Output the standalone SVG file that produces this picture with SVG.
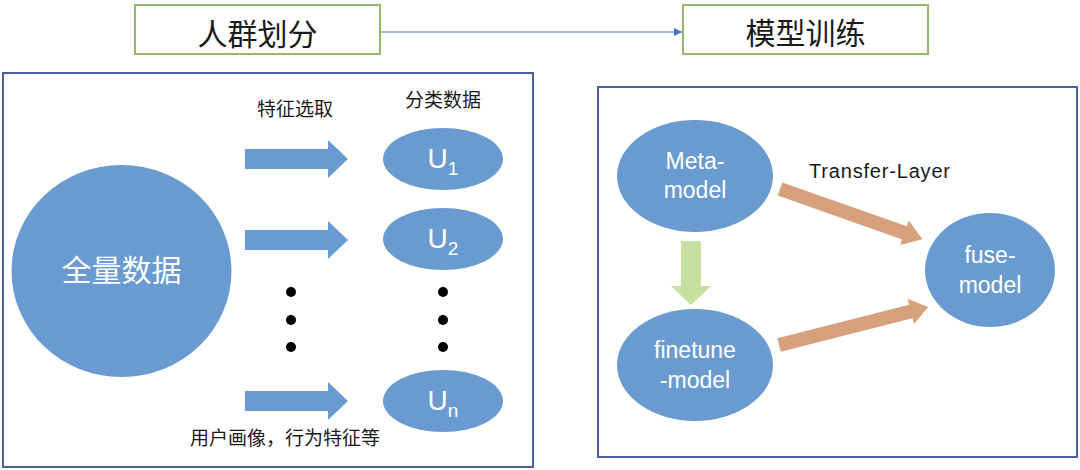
<svg xmlns="http://www.w3.org/2000/svg" width="1080" height="470" viewBox="0 0 1080 470">
<style>
.cn{font-family:"Noto Sans CJK SC",sans-serif;}
.lt{font-family:"Liberation Sans","Noto Sans CJK SC",sans-serif;}
.dark{fill:#1a1a1a;}
.wt{fill:#ffffff;}
.node{fill:#6a9bd0;}
.topbox{fill:#ffffff;stroke:#93b96a;stroke-width:2;}
.panel{fill:none;stroke:#4a5ea0;stroke-width:2;}
.barrow{fill:#6a9bd0;}
.oarrow{fill:#d7a07d;}
.garrow{fill:#c6e0a0;}
.dot{fill:#000000;}
</style>
<defs>
<marker id="ah" viewBox="0 0 10 10" refX="10" refY="5" markerWidth="8" markerHeight="8" markerUnits="userSpaceOnUse" orient="auto">
<path d="M0,0 L10,5 L0,10 z" fill="#4472c4"/>
</marker>
</defs>
<rect width="1080" height="470" fill="#ffffff"/>

<g id="panel-left"><rect class="panel" x="3" y="73" width="530" height="394"/></g>
<g id="panel-right"><rect class="panel" x="598" y="87" width="479" height="370"/></g>

<g id="connectors">
<line x1="381" y1="32" x2="682" y2="32" stroke="#4472c4" stroke-width="1" marker-end="url(#ah)"/>
<polygon class="barrow" points="245,149 328,149 328,140 348,159 328,178 328,169 245,169"/>
<polygon class="barrow" points="245,230 328,230 328,221 348,240 328,259 328,250 245,250"/>
<polygon class="barrow" points="245,391 328,391 328,382 348,401 328,420 328,411 245,411"/>
<polygon class="garrow" points="681,241 701,241 701,286 711,286 691,305 671,286 681,286"/>
<polygon class="oarrow" transform="translate(780,189) rotate(19.4)" points="0,-7 132,-7 132,-13 151,0 132,13 132,7 0,7"/>
<polygon class="oarrow" transform="translate(779,345) rotate(-14.3)" points="0,-7 136,-7 136,-13 154,0 136,13 136,7 0,7"/>
</g>

<g id="box-crowd">
<rect class="topbox" x="135" y="5" width="245" height="49"/>
<text class="cn dark" x="257.5" y="45" font-size="30" text-anchor="middle">人群划分</text>
</g>
<g id="box-train">
<rect class="topbox" x="683" y="5" width="245" height="49"/>
<text class="cn dark" x="805.5" y="44" font-size="30" text-anchor="middle">模型训练</text>
</g>

<g id="node-all">
<ellipse class="node" cx="121.5" cy="271" rx="110" ry="106"/>
<text class="cn wt" x="121.5" y="281" font-size="30" text-anchor="middle">全量数据</text>
</g>

<g id="label-feature"><text class="cn dark" x="295" y="116" font-size="19" text-anchor="middle">特征选取</text></g>
<g id="label-class"><text class="cn dark" x="443" y="107" font-size="19" text-anchor="middle">分类数据</text></g>
<g id="label-user"><text class="cn dark" x="190" y="445" font-size="19">用户画像，行为特征等</text></g>

<g id="node-u1">
<ellipse class="node" cx="443" cy="159" rx="60" ry="31"/>
<text class="lt wt" x="443" y="168" font-size="28" text-anchor="middle">U<tspan font-size="19" dy="7">1</tspan></text>
</g>
<g id="node-u2">
<ellipse class="node" cx="443" cy="239" rx="60" ry="31"/>
<text class="lt wt" x="443" y="248" font-size="28" text-anchor="middle">U<tspan font-size="19" dy="7">2</tspan></text>
</g>
<g id="node-un">
<ellipse class="node" cx="443" cy="401" rx="60" ry="31"/>
<text class="lt wt" x="443" y="410" font-size="28" text-anchor="middle">U<tspan font-size="19" dy="7">n</tspan></text>
</g>

<g id="dots">
<circle class="dot" cx="291" cy="292" r="5"/>
<circle class="dot" cx="291" cy="320" r="5"/>
<circle class="dot" cx="291" cy="347" r="5"/>
<circle class="dot" cx="443" cy="292" r="5"/>
<circle class="dot" cx="443" cy="320" r="5"/>
<circle class="dot" cx="443" cy="347" r="5"/>
</g>

<g id="node-meta">
<ellipse class="node" cx="695" cy="176" rx="78" ry="56"/>
<text class="lt wt" x="695" y="169" font-size="23" text-anchor="middle">Meta-</text>
<text class="lt wt" x="695" y="198" font-size="23" text-anchor="middle">model</text>
</g>
<g id="node-finetune">
<ellipse class="node" cx="695" cy="365" rx="78" ry="56"/>
<text class="lt wt" x="695" y="358" font-size="23" text-anchor="middle">finetune</text>
<text class="lt wt" x="695" y="388" font-size="23" text-anchor="middle">-model</text>
</g>
<g id="node-fuse">
<ellipse class="node" cx="990" cy="270" rx="65" ry="57"/>
<text class="lt wt" x="990" y="263" font-size="23" text-anchor="middle">fuse-</text>
<text class="lt wt" x="990" y="293" font-size="23" text-anchor="middle">model</text>
</g>

<g id="label-transfer"><text class="lt dark" x="809" y="178" font-size="20" textLength="141">Transfer-Layer</text></g>
</svg>
